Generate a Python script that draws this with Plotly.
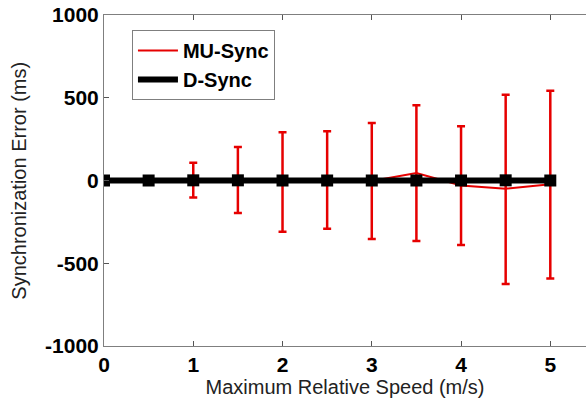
import plotly.graph_objects as go

# Maximum relative speed (m/s)
speed = [0, 0.5, 1, 1.5, 2, 2.5, 3, 3.5, 4, 4.5, 5]

# MU-Sync: mean synchronization error and spread (ms)
mu_mean = [0, 0, 3, 3, -9, 3, -3, 45, -30, -50, -22]
mu_upper = [0, 0, 105, 200, 300, 295, 350, 410, 358, 568, 565]
mu_lower = [0, 0, 105, 200, 300, 295, 350, 410, 360, 575, 570]

# D-Sync: mean synchronization error (ms)
d_mean = [0, 0, 1, 1, 0, 0, 0, 0, 0, 1, 0]

y_ticks = [-1000, -500, 0, 500, 1000]
y_tick_labels = ["-1000", "-500", "0", "500", "1000"]
x_ticks = [0, 1, 2, 3, 4, 5]

RED = "#e60000"

fig = go.Figure()

fig.add_trace(go.Scatter(
    x=speed, y=mu_mean, name="MU-Sync", mode="lines",
    line=dict(color=RED, width=2),
    error_y=dict(type="data", symmetric=False, array=mu_upper,
                 arrayminus=mu_lower, color=RED,
                 thickness=2.5, width=4),
))

# D-Sync line (legend entry shows only the thick line)
fig.add_trace(go.Scatter(
    x=speed, y=d_mean, name="D-Sync", mode="lines",
    line=dict(color="black", width=6),
))
# D-Sync square markers
fig.add_trace(go.Scatter(
    x=speed, y=d_mean, name="D-Sync", mode="markers", showlegend=False,
    marker=dict(symbol="square", size=12, color="black"),
))

tick_font = dict(family="Liberation Sans", size=21, color="black", weight="bold")
title_font = dict(family="Liberation Sans", size=20, color="#222222")

fig.update_layout(
    width=586, height=404,
    margin=dict(l=104, r=0, t=15, b=58),
    paper_bgcolor="white", plot_bgcolor="white",
    showlegend=True,
    legend=dict(
        x=0.058, y=0.955, xanchor="left", yanchor="top",
        bordercolor="#7f7f7f", borderwidth=1, bgcolor="white",
        font=dict(family="Liberation Sans", size=20, color="black", weight="bold"),
        itemwidth=40, tracegroupgap=6,
    ),
    xaxis=dict(
        range=[0, 5.4], tickvals=x_ticks, ticks="inside", ticklen=5,
        tickcolor="#555555", showline=True, linecolor="#7f7f7f",
        linewidth=1, mirror="ticks", showgrid=False, zeroline=False,
        tickfont=tick_font,
        title=dict(text="Maximum Relative Speed (m/s)", font=title_font, standoff=2),
    ),
    yaxis=dict(
        range=[-1000, 1000], tickvals=y_ticks, ticktext=y_tick_labels,
        ticks="inside", ticklen=5,
        tickcolor="#555555", showline=True, linecolor="#7f7f7f",
        linewidth=1, showgrid=False, zeroline=False,
        tickfont=tick_font,
    ),
    annotations=[dict(
        text="Synchronization Error (ms)", textangle=-90,
        xref="paper", yref="paper", x=-0.178, y=0.5,
        xanchor="center", yanchor="middle", showarrow=False,
        font=title_font,
    )],
)

fig.write_html("out.html")
